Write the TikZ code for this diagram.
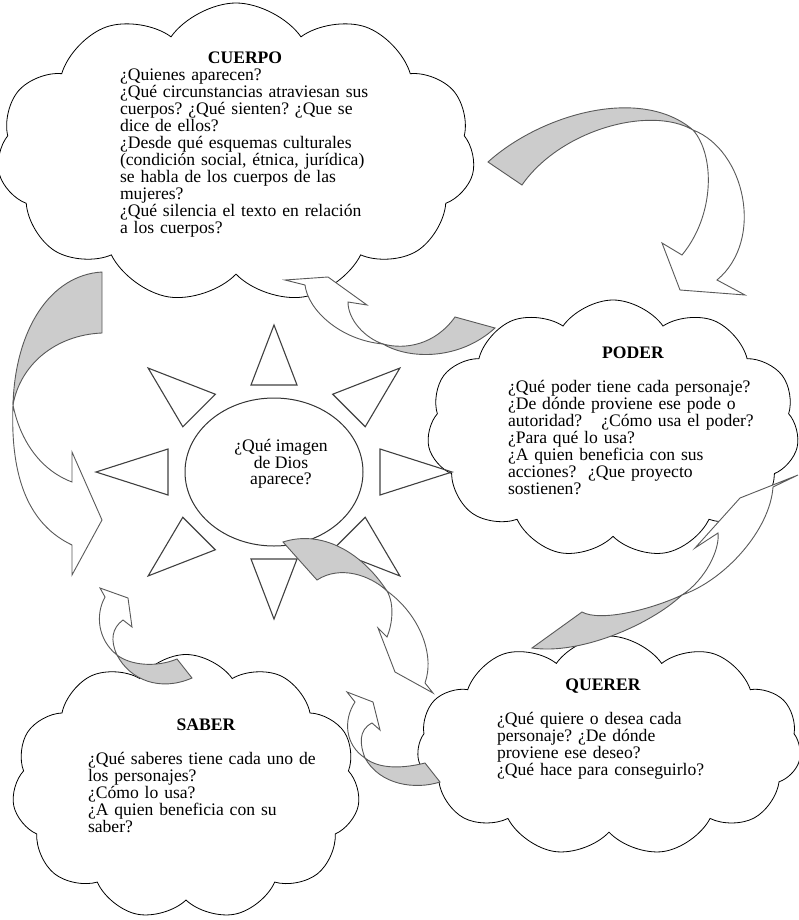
\documentclass[tikz,border=0pt]{standalone}
\usepackage{fontspec}
\setmainfont{Liberation Serif}
\usetikzlibrary{shapes.symbols,shapes.geometric,positioning}
\tikzset{
  cloudbox/.style={cloud, draw=black, line width=0.8pt, cloud puffs=11, cloud puff arc=110, cloud ignores aspect, inner sep=0pt},
  txt/.style={font=\fontsize{17.6}{17}\selectfont, align=left, inner sep=0pt},
  ray/.style={draw=black!75, line width=1.1pt, line join=miter},
  backside/.style={draw=black!65, fill=black!20, line width=0.9pt},
  frontside/.style={draw=black!65, fill=white, line width=0.9pt},
}
\newcommand{\jline}[1]{\makebox[\hsize][s]{#1}}
\newcommand{\ttline}[1]{\makebox[\hsize]{\bfseries #1}}
\frenchspacing

\begin{document}
\begin{tikzpicture}[x=1pt,y=-1pt]
  \useasboundingbox (0,0) rectangle (799,920);

  % clouds
  \node[cloudbox, minimum width=478, minimum height=300] (cuerpo) at (236,153) {};
  \node[cloudbox, minimum width=372, minimum height=258] (poder) at (613,429) {};
  \node[cloudbox, minimum width=384, minimum height=220] (querer) at (609,746) {};
  \node[cloudbox, minimum width=348, minimum height=265] (saber) at (186,787) {};

  % sun
  \node[ellipse, draw=black!80, line width=1pt, minimum width=178, minimum height=148] (dios) at (274,472) {};
  \foreach \a in {0,45,...,315}
    {
      \pgfmathsetmacro{\c}{cos(\a)}
      \pgfmathsetmacro{\s}{sin(\a)}
      \draw[ray] ({274+178*\c},{472-147*\s}) -- ({274+106*\c+23*\s},{472-87*\s+23*\c})
        -- ({274+106*\c-23*\s},{472-87*\s-23*\c}) -- cycle;
    }
  \node[txt, align=center, font=\fontsize{17.6}{16}\selectfont] (diostxt) at (281,464) {¿Qué imagen\\de Dios\\aparece?};

  % texts
  \node[txt, text width=250, anchor=north] (cuerpotxt) at (245,52) {\ttline{CUERPO}\\
    ¿Quienes aparecen?\\
    ¿Qué circunstancias atraviesan sus\\
    cuerpos? ¿Qué sienten? ¿Que se\\
    dice de ellos?\\
    \jline{¿Desde qué esquemas culturales}\\
    \jline{(condición social, étnica, jurídica)}\\
    \jline{se habla de los cuerpos de las}\\
    mujeres?\\
    \jline{¿Qué silencia el texto en relación}\\
    a los cuerpos?};
  \node[txt, text width=250, anchor=north] (podertxt) at (633,347) {\ttline{PODER}\\[17pt]
    ¿Qué poder tiene cada personaje?\\
    ¿De dónde proviene ese pode o\\
    autoridad?\hspace*{19pt}¿Cómo usa el poder?\\
    ¿Para qué lo usa?\\
    ¿A quien beneficia con sus\\
    acciones?\ \ ¿Que proyecto\\
    sostienen?};
  \node[txt, text width=212, anchor=north] (querertxt) at (603,679) {\ttline{QUERER}\\[17pt]
    ¿Qué quiere o desea cada\\
    personaje? ¿De dónde\\
    proviene ese deseo?\\
    ¿Qué hace para conseguirlo?};
  \node[txt, text width=236, anchor=north] (sabertxt) at (206,719) {\ttline{SABER}\\[17pt]
    ¿Qué saberes tiene cada uno de\\
    los personajes?\\
    ¿Cómo lo usa?\\
    ¿A quien beneficia con su\\
    saber?};

  % cuerpo -> poder
  \draw[backside] (488,162) .. controls (540,115) and (640,85) .. (693,130) .. controls (650,105) and (560,130) .. (522,185) -- cycle;
  \draw[frontside] (693,130) .. controls (715,155) and (715,215) .. (682,255) -- (662,243) -- (680,290) -- (745,295) -- (717,280) .. controls (765,240) and (745,150) .. (693,130) -- cycle;
  % poder -> cuerpo
  \draw[backside] (495,328) .. controls (460,360) and (410,360) .. (383,344) .. controls (405,350) and (435,345) .. (455,317) -- cycle;
  \draw[frontside] (383,344) .. controls (340,340) and (308,310) .. (305,285) -- (285,280) -- (328,277) -- (367,305) -- (348,302) .. controls (348,320) and (365,338) .. (383,344) -- cycle;
  % cuerpo -> left
  \draw[backside] (102,272) .. controls (50,275) and (15,330) .. (13,405) .. controls (20,365) and (55,335) .. (102,333) -- cycle;
  \draw[frontside] (13,405) .. controls (20,440) and (40,470) .. (72,482) -- (72,452) -- (102,520) -- (72,575) -- (72,545) .. controls (30,525) and (10,480) .. (13,405) -- cycle;
  % saber -> sun
  \draw[backside] (117,655) .. controls (130,665) and (155,668) .. (177,659) -- (192,678) .. controls (160,692) and (130,680) .. (117,655) -- cycle;
  \draw[frontside] (117,655) .. controls (98,640) and (95,615) .. (105,597) -- (100,588) -- (128,598) -- (132,627) -- (123,620) .. controls (112,628) and (110,640) .. (117,655) -- cycle;
  % sun -> querer
  \draw[backside] (283,542) .. controls (320,530) and (360,550) .. (387,591) .. controls (370,575) and (340,565) .. (317,580) -- cycle;
  \draw[frontside] (387,591) .. controls (395,605) and (392,625) .. (387,637) -- (378,628) -- (395,672) -- (433,693) -- (425,683) .. controls (435,655) and (420,615) .. (387,591) -- cycle;
  % querer -> poder
  \draw[backside] (582,612) .. controls (600,622) and (650,610) .. (682,595) .. controls (650,625) and (580,655) .. (532,648) -- cycle;
  \draw[frontside] (682,595) .. controls (705,580) and (720,550) .. (718,533) -- (695,548) -- (740,498) -- (798,475) -- (773,487) .. controls (770,530) and (725,580) .. (682,595) -- cycle;
  % querer -> saber
  \draw[backside] (365,758) .. controls (380,770) and (405,768) .. (425,763) -- (440,782) .. controls (415,790) and (380,785) .. (365,758) -- cycle;
  \draw[frontside] (365,758) .. controls (345,745) and (343,720) .. (355,702) -- (347,692) -- (373,702) -- (380,730) -- (372,723) .. controls (358,730) and (360,745) .. (365,758) -- cycle;
\end{tikzpicture}
\end{document}
